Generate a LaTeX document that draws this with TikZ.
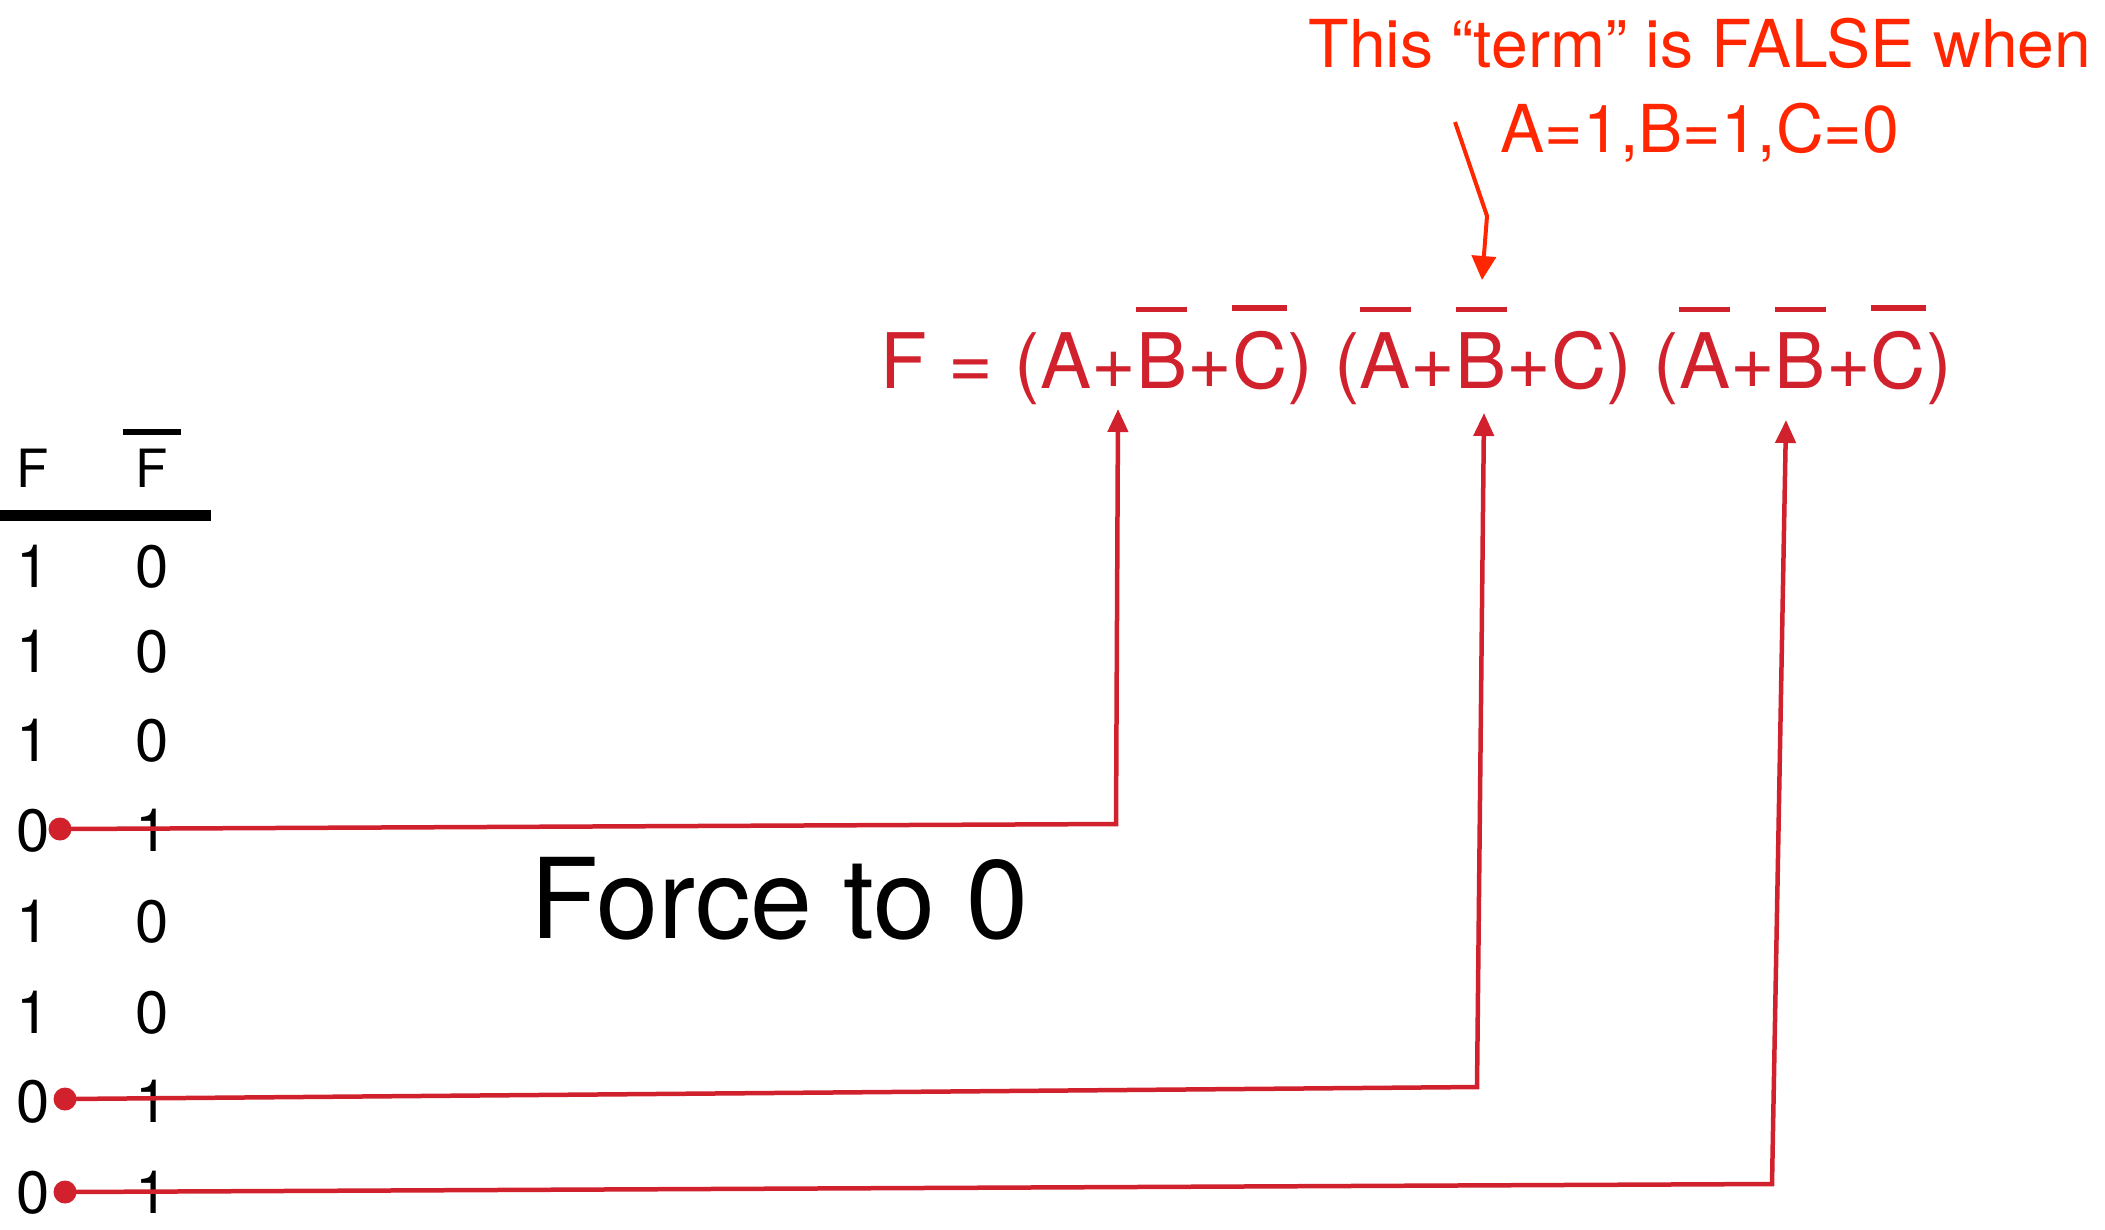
\documentclass[tikz,border=0pt]{standalone}
\usepackage{fontspec}
\setmainfont{TeX Gyre Heros}
\usetikzlibrary{arrows.meta}
\definecolor{termred}{RGB}{208,33,45}
\definecolor{notered}{RGB}{255,38,0}
\newcommand{\barth}{0.07em}
% complement bar drawn over a letter, optionally wider on both sides
\newcommand{\negbar}[2][0pt]{\setbox0=\hbox{#2}\rlap{\kern-#1\raisebox{\dimexpr\ht0+0.26em\relax}{\rule{\dimexpr\wd0+#1+#1\relax}{\barth}}}#2}

\begin{document}
\begin{tikzpicture}[
  digit/.style={inner sep=0pt,anchor=base,font=\fontsize{17}{20}\selectfont},
  head/.style={inner sep=0pt,anchor=base,font=\fontsize{15}{18}\selectfont},
  dot/.style={circle,fill=termred,inner sep=0pt,minimum size=0.23cm},
  link/.style={-{Triangle[length=0.23cm,width=0.2cm]},termred,line width=0.045cm},
  note/.style={-{Triangle[length=0.24cm,width=0.24cm]},notered,line width=0.04cm},
]
\useasboundingbox (0,0) rectangle (21.05,-12.29);
% ---------- truth table ----------
\node[head] (hf) at (0.33,-4.87) {F};
\node[head] (hnf) at (1.52,-4.87) {\renewcommand{\barth}{0.11em}\negbar[0.25em]{F}};
\draw[line width=0.105cm] (0,-5.155) -- (2.11,-5.155);
\foreach \r/\yb/\f/\g in {1/5.87/1/0,2/6.72/1/0,3/7.61/1/0,4/8.51/0/1,
                          5/9.42/1/0,6/10.33/1/0,7/11.22/0/1,8/12.13/0/1}{
  \node[digit] (f\r) at (0.33,-\yb) {\f};
  \node[digit] (g\r) at (1.52,-\yb) {\g};
}
\node[dot] (d4) at (0.60,-8.29) {};
\node[dot] (d7) at (0.65,-10.99) {};
\node[dot] (d8) at (0.65,-11.92) {};
% ---------- expression ----------
\node[termred,inner sep=0pt,anchor=base west,font=\fontsize{21.8}{26}\selectfont] (eq) at (8.80,-3.88)
  {F = (A+\negbar{B}+\negbar{C}) (\negbar{A}+\negbar{B}+C) (\negbar{A}+\negbar{B}+\negbar{C})};
\node[inner sep=0pt,anchor=base west,font=\fontsize{31.7}{37}\selectfont] (force) at (5.30,-9.38) {Force to 0};
% ---------- forcing wires ----------
\coordinate (k1) at (11.16,-8.24);
\coordinate (t1) at (11.18,-4.09);
\coordinate (k2) at (14.77,-10.87);
\coordinate (t2) at (14.84,-4.13);
\coordinate (k3) at (17.72,-11.84);
\coordinate (t3) at (17.86,-4.20);
\draw[link] (d4.center) -- (k1) -- (t1);
\draw[link] (d7.center) -- (k2) -- (t2);
\draw[link] (d8.center) -- (k3) -- (t3);
% ---------- annotation ----------
\node[notered,inner sep=0pt,anchor=north,align=center,font=\fontsize{18.8}{24.2}\selectfont] (ann) at (17.00,-0.17)
  {This “term” is FALSE when\\A=1,B=1,C=0};
\coordinate (n0) at (14.55,-1.22);
\coordinate (n1) at (14.87,-2.16);
\coordinate (n2) at (14.82,-2.80);
\draw[note] (n0) -- (n1) -- (n2);
\end{tikzpicture}
\end{document}
